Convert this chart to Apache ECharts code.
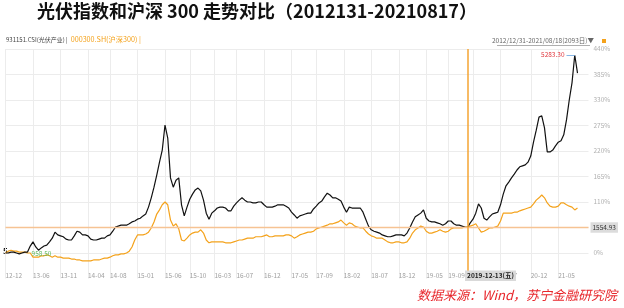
<!DOCTYPE html>
<html><head><meta charset="utf-8">
<script src="https://cdn.jsdelivr.net/npm/echarts@6/dist/echarts.min.js"></script>
<style>html,body{margin:0;padding:0;background:#fff}#c{width:624px;height:308px}</style>
</head><body><div id="c"></div>
<script>
// ---- data (percent change since 2012-12-31), semi-monthly samples ----
const nameA = '931151.CSI(光伏产业)';
const nameB = '000300.SH(沪深300)';
const pvPct = [0,0,2,2,0,-2,0,2,2,15,24,13,6,11,15,17,24,32,45,39,37,35,30,28,28,37,47,45,39,39,37,30,28,28,30,32,32,37,39,47,56,58,60,60,60,63,67,69,73,75,80,84,99,119,142,168,196,222,276,248,162,142,157,162,104,80,99,116,127,136,140,134,114,86,73,86,91,97,99,99,97,91,91,101,108,114,119,114,110,110,108,108,110,110,104,99,99,99,101,104,104,104,101,97,88,82,75,80,82,84,86,86,95,101,108,112,121,129,125,119,119,116,112,99,88,99,97,97,97,97,88,73,58,50,47,45,43,39,37,35,35,37,39,39,39,37,43,54,67,78,82,86,93,75,69,67,67,65,63,60,63,69,69,63,60,60,58,56,55,65,73,86,106,97,75,71,78,84,86,88,104,127,145,153,162,170,179,186,188,190,196,209,239,265,293,296,270,218,218,222,231,239,242,255,287,330,367,427,388];
const hsPct = [0,4,6,4,4,2,2,2,0,0,-9,-9,-9,-6,-6,-4,-6,-9,-6,-9,-9,-11,-11,-11,-13,-13,-15,-15,-17,-17,-17,-17,-15,-15,-15,-13,-11,-11,-9,-6,-4,-4,-2,-2,0,4,13,28,39,39,39,41,45,54,67,84,93,104,110,104,71,58,63,52,28,26,32,39,43,45,45,50,43,28,22,24,24,24,24,24,22,22,22,24,26,28,28,30,32,32,32,35,35,35,37,39,35,35,37,37,37,37,39,39,37,32,35,39,41,43,45,45,47,52,54,56,58,60,63,63,65,67,71,65,60,65,63,58,56,54,54,47,41,37,35,32,32,32,28,24,22,22,24,24,22,22,24,32,43,50,54,58,56,47,43,43,45,47,50,47,45,47,52,54,54,54,54,56,56,58,60,63,54,45,47,50,54,54,56,58,69,86,86,86,86,88,88,91,93,95,97,99,106,114,119,125,119,108,101,99,99,101,108,108,104,101,99,93,97];
const tickDates = ['2012-12-31','2013-06-01','2013-11-01','2014-04-01','2014-08-01','2015-01-01','2015-06-01','2015-10-16','2016-03-01','2016-07-01','2016-12-01','2017-05-01','2017-09-16','2018-02-16','2018-07-16','2018-12-16','2019-05-16','2019-09-16','2020-02-01','2020-07-01','2020-12-16','2021-05-16'];
const maxText = '5283.30';
const minText = '958.50';
const crossText = '2019-12-13(五)';
const crossValueText = '1554.93';

// category dates: 2012-12-31, then 1st and 16th of each month
const dates = ['2012-12-31'];
(function(){ let y=2013, m=1; while(dates.length<213){ const mm=String(m).padStart(2,'0');
  if(dates.length%2===1){ dates.push(y+'-'+mm+'-16'); m++; if(m>12){m=1;y++;} } else { dates.push(y+'-'+mm+'-01'); } } })();
dates[pvPct.length-1] = '2021-08-18';

const tickSet = new Set(tickDates);
const crossDate = dates[168];
const crossVal = pvPct[168];
let maxIdx = 0; pvPct.forEach((v,i)=>{ if(v>pvPct[maxIdx]) maxIdx=i; });

const chart = echarts.init(document.getElementById('c'), null, {renderer:'canvas'});
const FONT = 'Noto Sans CJK SC';
const showTick = (idx, val) => tickSet.has(val);
const maxLine = {color:'#86b6e6', width:1, type:'solid'};
const maxLabel = {show:true, position:'start', distance:2, formatter:maxText, color:'#e0363d', fontSize:6.5};
chart.setOption({
  animation:false,
  textStyle:{fontFamily:FONT},
  title:{text:'光伏指数和沪深 300 走势对比（2012131-20210817）', left:37, top:0, padding:[2,0,0,0],
    textStyle:{fontSize:18, fontWeight:'bold', color:'#111', fontFamily:FONT}},
  legend:{left:1, top:36, padding:0, itemWidth:0, itemHeight:0, itemGap:-2, icon:'rect',
    formatter: n => n + ' |',
    textStyle:{fontSize:6, fontFamily:FONT},
    data:[{name:nameA, textStyle:{color:'#444', fontSize:6}},{name:nameB, textStyle:{color:'#f4a21b', fontSize:7.2}}]},
  grid:{left:5.5, right:35.5, top:49, bottom:29.5},
  xAxis:{type:'category', data:dates, boundaryGap:false,
    axisLine:{show:false}, axisTick:{show:false},
    axisLabel:{interval:showTick, formatter:v=>v.slice(2,7), align:'left', margin:-6, fontSize:6.5, color:'#a0a0a0'},
    splitLine:{show:true, interval:showTick, lineStyle:{color:'#ececec', width:1}}},
  yAxis:{type:'value', position:'right', min:-55, max:440, interval:55,
    axisLine:{show:false}, axisTick:{show:false},
    axisLabel:{formatter:v=> v<0 ? '' : v+'%', fontSize:6.5, color:'#b0b0b0', margin:5, align:'left'},
    splitLine:{lineStyle:{color:['rgba(0,0,0,0)','#ececec','#ececec','#ececec','#ececec','#ececec','#ececec','#ececec','#ececec','#ececec'], width:1}}},
  series:[
    {name:nameA, type:'line', data:pvPct, showSymbol:false, symbol:'none', z:3,
      lineStyle:{color:'#111', width:1.2}, itemStyle:{color:'#111'},
      markLine:{silent:true, symbol:['none','none'], animation:false, data:[
        {yAxis:crossVal, lineStyle:{color:'#f6c393', width:1.3, type:'solid'},
          label:{show:true, position:'end', distance:2, formatter:crossValueText, color:'#333', fontSize:6.5,
            backgroundColor:'#dcdcdc', padding:[2,2]}},
        [{coord:[dates[maxIdx-3], pvPct[maxIdx]], lineStyle:maxLine, label:maxLabel},
         {coord:[dates[maxIdx], pvPct[maxIdx]], lineStyle:maxLine, label:maxLabel}]
      ]},
      markPoint:{silent:true, symbol:'circle', symbolSize:0, data:[
        {coord:[dates[12], pvPct[12]], label:{show:true, formatter:minText, offset:[3,3], color:'#5cb85c', fontSize:6.5}}
      ]}},
    {name:nameB, type:'line', data:hsPct, showSymbol:false, symbol:'none', z:2,
      lineStyle:{color:'#f4a21b', width:1.2}, itemStyle:{color:'#f4a21b'},
      markLine:{silent:true, symbol:['none','none'], animation:false,
        lineStyle:{color:'#f5a533', width:1.5, type:'solid', opacity:1},
        data:[
        {xAxis:crossDate, lineStyle:{color:'#f5a533', width:1.5, type:'solid', opacity:1},
          label:{show:true, position:'start', distance:1, offset:[23,-9], formatter:crossText, color:'#222', fontWeight:'bold', fontSize:6.5,
            backgroundColor:'#d9d9d9', padding:[2,2]}}
      ]}}
  ],
  graphic:[
    {type:'text', left:3, top:247, style:{text:'5.', fontSize:8, fontWeight:'bold', fill:'#111', fontFamily:FONT}},
    {type:'text', right:30, top:37, style:{text:'2012/12/31-2021/08/18(2093日)▼', fontSize:6.5, fill:'#666', fontFamily:FONT}},
    {type:'line', shape:{x1:497, y1:45.5, x2:590, y2:45.5}, style:{stroke:'#777', lineWidth:0.6}},
    {type:'rect', shape:{x:602, y:39, width:4, height:4}, style:{fill:'#f4a21b'}},
    {type:'text', right:7, top:289, style:{text:'数据来源：Wind，苏宁金融研究院', fontSize:13, fontStyle:'italic', fill:'#e8262b', fontFamily:FONT}}
  ]
});
</script></body></html>
